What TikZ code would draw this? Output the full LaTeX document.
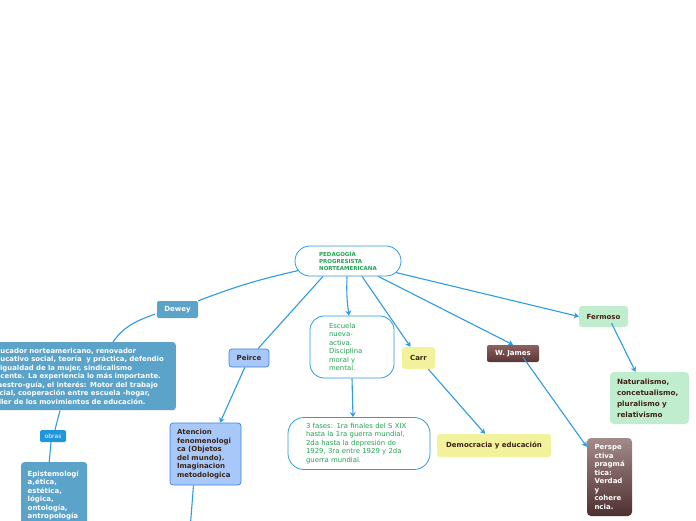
\documentclass[tikz,border=0pt]{standalone}
\usepackage{fontspec}
\setmainfont{DejaVu Sans}
\usetikzlibrary{arrows.meta, shapes.misc}

\definecolor{linkblue}{HTML}{2F9BE0}
\definecolor{rootgreen}{HTML}{22A352}
\definecolor{deweyblue}{HTML}{5BA3C9}
\definecolor{obrasblue}{HTML}{2196DC}
\definecolor{peircefill}{HTML}{A8C8FA}
\definecolor{peirceline}{HTML}{3A84E0}
\definecolor{darktext}{HTML}{3C2415}
\definecolor{carryellow}{HTML}{F3F29C}
\definecolor{fermgreen}{HTML}{C1EDCF}
\definecolor{jamestop}{HTML}{8C6060}
\definecolor{jamesbot}{HTML}{5A3636}
\definecolor{persptop}{HTML}{A38A8A}
\definecolor{perspbot}{HTML}{4E2F2F}

\tikzset{
  link/.style={draw=linkblue, line width=1.1pt},
  arr/.style={link, -{Stealth[length=5pt, width=6pt]}},
  box/.style={inner sep=0pt, align=left, rounded corners=3pt,
    font=\bfseries\fontsize{7}{8.5}\selectfont},
  outline/.style={box, draw=linkblue, line width=0.8pt, fill=white,
    text=rootgreen, font=\fontsize{6.9}{8.5}\selectfont}
}

\begin{document}
\begin{tikzpicture}[x=1pt, y=-1pt]
      \useasboundingbox (0,0) rectangle (696,520);
      \clip (0,0) rectangle (696,520);

      % Central topic
      \node[rounded rectangle, draw=linkblue, line width=0.8pt, fill=white,
        minimum width=106pt, minimum height=30pt, inner sep=0pt, align=left,
        text=rootgreen, font=\bfseries\fontsize{5.5}{7}\selectfont]
        (root) at (348,261) {PEDAGOGÍA\\PROGRESISTA\\NORTEAMERICANA};

      % Dewey branch
      \node[box, fill=deweyblue, text=white, minimum width=41pt, minimum height=17pt,
        rounded corners=2pt] (dewey) at (177.5,309.5) {Dewey};
      \node[box, fill=deweyblue, text=white, anchor=north east, text width=176pt,
        inner xsep=9pt, minimum height=68pt, font=\bfseries\fontsize{6.9}{8.5}\selectfont]
        (desc) at (176,342) {Educador norteamericano, renovador\\
        educativo social, teoría\ \ y práctica, defendio\\
        la igualdad de la mujer, sindicalismo\\
        docente. La experiencia lo más importante.\\
        Maestro-guía, el interés: Motor del trabajo\\
        social, cooperación entre escuela -hogar,\\
        taller de los movimientos de educación.};
      \node[box, fill=obrasblue, text=white, minimum width=26pt, minimum height=12pt,
        rounded corners=1.5pt, font=\fontsize{6}{7}\selectfont] (obras) at (53,436) {obras};
      \node[box, fill=deweyblue, text=white, anchor=north west, text width=53pt,
        inner xsep=6.5pt, minimum height=66pt] (epist) at (21,462)
        {Epistemologí\\a,ética,\\estética,\\lógica,\\ontología,\\antropología};

      % Peirce branch
      \node[box, fill=peircefill, draw=peirceline, line width=0.7pt, text=darktext,
        minimum width=40pt, minimum height=18pt] (peirce) at (249,358) {Peirce};
      \node[box, fill=peircefill, draw=peirceline, line width=0.7pt, text=darktext,
        text width=57pt, inner xsep=7pt, minimum height=62pt] (atenc) at (205.5,454)
        {Atencion\\fenomenologi\\ca (Objetos\\del mundo).\\Imaginacion\\metodologica};
      \coordinate (atenc-next) at (190,530);

      % Escuela branch
      \node[outline, rounded corners=14pt, text width=46pt, minimum width=84pt,
        minimum height=62pt] (escuela) at (352,347)
        {Escuela\\nueva-\\activa.\\Disciplina\\moral y\\mental.};
      \node[outline, rounded corners=16pt, text width=106pt, minimum width=142pt,
        minimum height=52pt] (fases) at (359,443.5)
        {3 fases: 1ra finales del S XIX\\hasta la 1ra guerra mundial,\\2da hasta la depresión de\\1929, 3ra entre 1929 y 2da\\guerra mundial.};

      % Carr branch
      \node[box, fill=carryellow, text=darktext, minimum width=33pt, minimum height=22pt]
        (carr) at (418.5,358) {Carr};
      \node[box, fill=carryellow, text=darktext, minimum width=114pt, minimum height=23pt]
        (demo) at (494,445.5) {Democracia y educación};

      % W. James branch
      \node[box, top color=jamestop, bottom color=jamesbot, text=white,
        minimum width=52pt, minimum height=17pt, rounded corners=2pt]
        (wjames) at (513,353.5) {W. James};
      \node[box, top color=persptop, bottom color=perspbot, text=white,
        text width=30pt, inner xsep=7.5pt, minimum height=78pt, rounded corners=4pt]
        (persp) at (609.5,477) {Perspe\\ctiva\\pragmá\\tica:\\Verdad\\y\\cohere\\ncia.};

      % Fermoso branch
      \node[box, fill=fermgreen, text=darktext, minimum width=49pt, minimum height=21pt]
        (fermoso) at (603.5,316.5) {Fermoso};
      \node[box, fill=fermgreen, text=darktext, text width=65pt, inner xsep=7pt,
        minimum height=52pt, rounded corners=4pt, font=\bfseries\fontsize{7.2}{11}\selectfont]
        (natur) at (649.5,398) {Naturalismo,\\concetualismo,\\pluralismo y\\relativismo};

      % Connectors
      \draw[link] (root) to[bend right=4] (dewey.north east);
      \draw[link] ([xshift=-2,yshift=4]dewey.south west) to[out=200, in=55] ([xshift=-63]desc.north east);
      \draw[link] ([xshift=-116]desc.south east) -- ([xshift=2]obras.north);
      \draw[link] ([xshift=-2]obras.south) -- ([xshift=-5]epist.north);
      \draw[link] ([xshift=-25]root.south) -- ([xshift=9]peirce.north);
      \draw[arr] (peirce) -- ([xshift=14.5]atenc.north);
      \draw[link] ([xshift=-12]atenc.south) -- (atenc-next);
      \draw[arr] ([xshift=-1]root.south) to[bend right=5] ([xshift=-3]escuela.north);
      \draw[arr] (escuela.south) -- ([xshift=-6]fases.north);
      \draw[arr] ([xshift=14]root.south) -- ([xshift=-8]carr.north);
      \draw[arr] (carr) -- ([xshift=-9]demo.north);
      \draw[arr] (root) -- (wjames.north);
      \draw[arr] ([xshift=10,yshift=5]wjames.south) -- ([yshift=-9]persp.north west);
      \draw[arr] (root) -- (fermoso.west);
      \draw[arr] ([xshift=8,yshift=4]fermoso.south) -- ([xshift=-14]natur.north);
    \end{tikzpicture}
\end{document}
